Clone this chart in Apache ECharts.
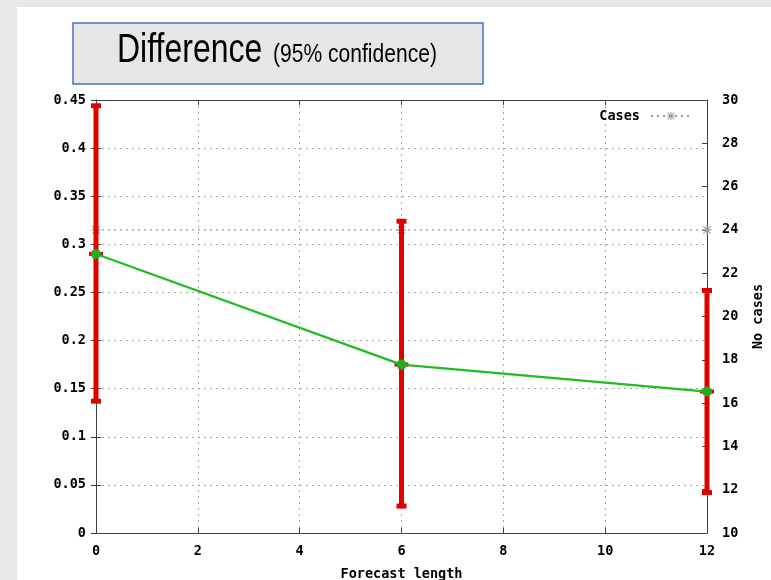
<!DOCTYPE html>
<html>
<head>
<meta charset="utf-8">
<script src="https://cdn.jsdelivr.net/npm/echarts@6/dist/echarts.min.js"></script>
<style>
  html, body { margin: 0; padding: 0; background: #e8e8e8; }
  #chart { position: absolute; left: 17px; top: 7px; width: 754px; height: 573px; background: #ffffff; }
</style>
</head>
<body>
<div id="chart"></div>
<script>
// Forecast lengths and the mean difference with its 95% confidence bounds
const forecastLength = [0, 6, 12];
const difference = [0.29, 0.175, 0.147];
const lowerBound = [0.137, 0.028, 0.042];
const upperBound = [0.444, 0.324, 0.252];
// Number of cases at each forecast length (right axis)
const cases = [24, 24, 24];

const monoFont = '"DejaVu Sans Mono", "Liberation Mono", monospace';
const axisText = { color: '#000', fontFamily: monoFont, fontWeight: 'bold', fontSize: 13.5 };
const gridLine = { show: true, lineStyle: { color: '#a8a8a8', type: [2, 4], width: 1 } };
const borderLine = { show: true, onZero: false, lineStyle: { color: '#404040', width: 1 } };
const innerTick = { show: true, inside: true, length: 5, lineStyle: { color: '#404040' } };

const asterisk = 'path://M4.4,0h1.2v10h-1.2z M0,4.4h10v1.2h-10z M1.2,0.4l8.4,8.4l-0.8,0.8l-8.4,-8.4z M8.8,0.4l0.8,0.8l-8.4,8.4l-0.8,-0.8z';

const errData = forecastLength.map((x, i) => [x, lowerBound[i], upperBound[i], difference[i]]);

const chart = echarts.init(document.getElementById('chart'), null, { renderer: 'canvas' });
chart.setOption({
  animation: false,
  grid: { left: 79, right: 64, top: 93, bottom: 47, show: false, containLabel: false, outerBoundsMode: 'none' },
  graphic: [
    {
      type: 'rect', z: 10,
      shape: { x: 56, y: 16, width: 410, height: 61 },
      style: { fill: '#e6e6e6', stroke: '#4472c4', lineWidth: 1.5 }
    },
    {
      type: 'text', z: 11, x: 100, y: 64, scaleX: 0.8,
      style: { text: 'Difference', font: '40px "Liberation Sans", Arial, sans-serif', fill: '#000', textAlign: 'left', textVerticalAlign: 'bottom' }
    },
    {
      type: 'text', z: 11, x: 256, y: 61, scaleX: 0.81,
      style: { text: '(95% confidence)', font: '26px "Liberation Sans", Arial, sans-serif', fill: '#000', textAlign: 'left', textVerticalAlign: 'bottom' }
    }
  ],
  legend: {
    data: ['Cases'],
    right: 74, top: 97,
    align: 'right',
    itemWidth: 40, itemHeight: 10,
    textStyle: Object.assign({ padding: [0, 6, 0, 0] }, axisText),
    itemGap: 4
  },
  xAxis: [
    {
      type: 'value', min: 0, max: 12, interval: 2,
      name: 'Forecast length', nameLocation: 'middle', nameGap: 34,
      nameTextStyle: axisText,
      axisLine: borderLine,
      axisTick: innerTick,
      axisLabel: Object.assign({ margin: 11 }, axisText),
      splitLine: gridLine
    },
    {
      type: 'value', min: 0, max: 12, interval: 2, position: 'top',
      axisLine: borderLine,
      axisTick: innerTick,
      axisLabel: { show: false },
      splitLine: { show: false }
    }
  ],
  yAxis: [
    {
      type: 'value', min: 0, max: 0.45, interval: 0.05,
      axisLine: borderLine,
      axisTick: innerTick,
      axisLabel: Object.assign({ margin: 10 }, axisText),
      splitLine: gridLine
    },
    {
      type: 'value', min: 10, max: 30, interval: 2, position: 'right',
      name: 'No cases', nameLocation: 'middle', nameGap: 44, nameRotate: 90,
      nameTextStyle: axisText,
      axisLine: borderLine,
      axisTick: innerTick,
      axisLabel: Object.assign({ margin: 15 }, axisText),
      splitLine: { show: false }
    },
    {
      type: 'value', min: 0, max: 0.45, interval: 0.05, position: 'right', offset: 0,
      axisLine: { show: false },
      axisTick: innerTick,
      axisLabel: { show: false },
      splitLine: { show: false }
    }
  ],
  series: [
    {
      name: 'Confidence',
      type: 'custom',
      xAxisIndex: 0, yAxisIndex: 0,
      z: 4,
      data: errData,
      renderItem: function (params, api) {
        const lo = api.coord([api.value(0), api.value(1)]);
        const hi = api.coord([api.value(0), api.value(2)]);
        const mid = api.coord([api.value(0), api.value(3)]);
        const red = '#e00000';
        return {
          type: 'group',
          children: [
            { type: 'line', shape: { x1: lo[0], y1: lo[1], x2: hi[0], y2: hi[1] }, style: { stroke: red, lineWidth: 5 } },
            { type: 'rect', shape: { x: lo[0] - 5, y: lo[1] - 2.5, width: 10, height: 5 }, style: { fill: red } },
            { type: 'rect', shape: { x: hi[0] - 5, y: hi[1] - 2.5, width: 10, height: 5 }, style: { fill: red } },
            { type: 'rect', shape: { x: mid[0] - 7, y: mid[1] - 2, width: 14, height: 4 }, style: { fill: red } }
          ]
        };
      }
    },
    {
      name: 'Difference',
      type: 'line',
      xAxisIndex: 0, yAxisIndex: 0,
      z: 5,
      data: forecastLength.map((x, i) => [x, difference[i]]),
      symbol: 'circle', symbolSize: 10,
      itemStyle: { color: '#1fae1f' },
      lineStyle: { color: '#22bb22', width: 2.2 }
    },
    {
      name: 'Cases',
      type: 'line',
      xAxisIndex: 0, yAxisIndex: 1,
      z: 3,
      clip: false,
      data: forecastLength.map((x, i) => [x, cases[i]]),
      symbol: asterisk, symbolSize: 9,
      itemStyle: { color: '#9a9a9a' },
      lineStyle: { color: '#9a9a9a', width: 1.2, type: [2, 4] }
    }
  ]
});
</script>
</body>
</html>
